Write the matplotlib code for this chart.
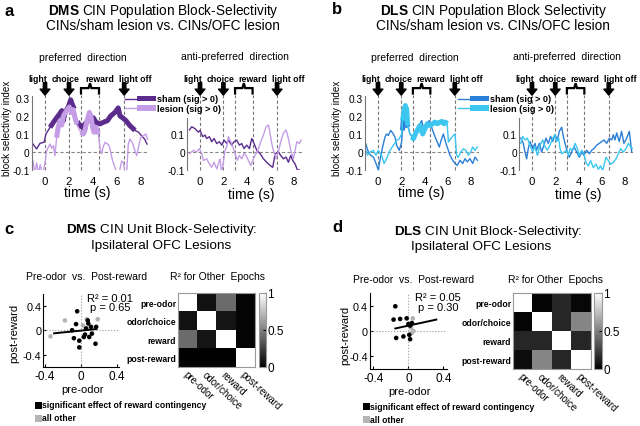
import numpy as np
import matplotlib.pyplot as plt
from matplotlib.patches import Rectangle
from matplotlib.lines import Line2D

plt.rcParams['font.family'] = ['Liberation Sans', 'DejaVu Sans']
plt.rcParams['mathtext.fontset'] = 'custom'
plt.rcParams['mathtext.rm'] = 'Liberation Sans'
plt.rcParams['mathtext.bf'] = 'Liberation Sans:bold'
plt.rcParams['axes.unicode_minus'] = False

##########
## DATA ##
##########

# population block selectivity, time (s) vs index; sig = windows where sig > 0
dms_pref_sham_t = [-1.0, -0.7, -0.42, -0.08, 0.08, 0.42, 0.7, 0.97, 1.2, 1.4, 1.53, 1.67, 1.94, 2.14, 2.3, 2.44,
                   2.7, 2.9, 3.14, 3.33, 3.6, 3.8, 4.03, 4.25, 4.58, 4.86, 5.2, 5.47, 5.83, 6.1, 6.25, 6.47,
                   6.75, 7.08, 7.5, 7.8, 8.05, 8.3, 8.5]
dms_pref_sham_v = [0.044, 0.017, 0.048, 0.054, 0.10, 0.137, 0.165, 0.19, 0.21, 0.23, 0.174, 0.22, 0.25, 0.29, 0.26, 0.24,
                   0.17, 0.146, 0.137, 0.156, 0.174, 0.196, 0.19, 0.165, 0.156, 0.165, 0.174, 0.20, 0.22, 0.245, 0.20, 0.19,
                   0.174, 0.146, 0.12, 0.11, 0.09, 0.072, 0.044]
dms_pref_sham_sig = [(0.4, 2.45), (2.7, 7.5)]

dms_pref_les_t = [-1.0, -0.85, -0.7, -0.55, -0.4, -0.2, 0.0, 0.14, 0.3, 0.42, 0.56, 0.7, 0.83, 0.97, 1.1, 1.25,
                  1.4, 1.53, 1.8, 2.03, 2.2, 2.35, 2.5, 2.65, 2.97, 3.2, 3.33, 3.47, 3.7, 3.83, 3.97, 4.08,
                  4.25, 4.44, 4.58, 4.72, 4.86, 5.0, 5.2, 5.35, 5.47, 5.64, 5.83, 5.97, 6.2, 6.39, 6.55, 6.68,
                  6.8, 6.94, 7.08, 7.3, 7.5, 7.64, 7.8, 7.97, 8.2, 8.4, 8.55]
dms_pref_les_v = [-0.05, -0.12, -0.06, -0.12, -0.07, -0.13, -0.06, 0.007, 0.03, 0.044, 0.02, 0.035, -0.02, 0.08, 0.137, 0.174,
                  0.15, 0.2, 0.23, 0.25, 0.22, 0.235, 0.19, 0.155, 0.11, 0.10, 0.12, 0.165, 0.22, 0.20, 0.137, 0.11,
                  0.137, 0.10, 0.026, -0.01, 0.03, 0.054, 0.045, 0.035, 0.0, -0.05, -0.085, -0.12, -0.11, -0.05, -0.06, -0.13,
                  -0.12, 0.044, 0.072, 0.05, 0.007, -0.02, 0.03, 0.08, 0.09, 0.1, 0.07]
dms_pref_les_sig = [(0.97, 2.65), (2.97, 4.44)]

dms_anti_sham_t = [-0.91, -0.71, -0.43, -0.14, 0.0, 0.23, 0.43, 0.57, 0.8, 1.0, 1.2, 1.43, 1.66, 1.86, 2.06,
                   2.29, 2.43, 2.71, 2.91, 3.14, 3.37, 3.57, 3.77, 4.0, 4.23, 4.43, 4.63, 4.86, 5.14, 5.43,
                   5.71, 6.0, 6.23, 6.43, 6.71, 6.91, 7.14, 7.37, 7.57, 7.77, 7.94, 8.14, 8.34, 8.5]
dms_anti_sham_v = [0.123, 0.14, 0.13, 0.11, 0.12, 0.085, 0.094, 0.075, 0.085, 0.057, 0.075, 0.047, 0.057, 0.038, 0.066,
                   0.047, 0.066, 0.038, 0.057, 0.066, 0.038, 0.047, 0.019, 0.038, 0.019, 0.075, 0.047, 0.009, -0.009, -0.038,
                   -0.057, -0.075, -0.085, -0.01, 0.0, -0.019, -0.038, -0.028, -0.057, -0.019, -0.047, -0.066, -0.1, -0.1]
dms_anti_sham_sig = []

dms_anti_les_t = [-0.91, -0.57, -0.29, -0.06, 0.14, 0.29, 0.57, 0.8, 1.0, 1.2, 1.43, 1.57, 1.71, 1.86, 2.14,
                  2.29, 2.43, 2.63, 2.8, 3.0, 3.2, 3.37, 3.57, 3.77, 3.95, 4.14, 4.34, 4.57, 4.8, 5.0,
                  5.2, 5.43, 5.66, 5.86, 6.0, 6.14, 6.29, 6.51, 6.71, 6.91, 7.14, 7.37, 7.57, 7.77, 8.0,
                  8.14, 8.29, 8.51, 8.66]
dms_anti_les_v = [-0.009, 0.009, 0.0, 0.019, -0.009, -0.047, -0.038, -0.066, -0.085, -0.057, -0.094, -0.066, -0.038, -0.12, 0.009,
                  0.028, 0.085, 0.057, 0.03, -0.009, -0.047, -0.019, -0.038, -0.009, -0.02, -0.047, -0.075, -0.038, -0.009, 0.019,
                  0.057, 0.094, 0.14, 0.15, 0.104, 0.047, 0.009, -0.038, 0.0, 0.057, 0.104, 0.123, 0.075, 0.009, -0.038,
                  0.009, 0.057, 0.047, 0.066]
dms_anti_les_sig = []

dls_pref_sham_t = [-1.1, -0.83, -0.63, -0.4, -0.17, 0.03, 0.17, 0.4, 0.6, 0.74, 0.89, 1.09, 1.32, 1.46, 1.6,
                   1.83, 2.03, 2.1, 2.23, 2.35, 2.46, 2.6, 2.75, 2.98, 3.18, 3.38, 3.55, 3.75, 3.9, 4.04,
                   4.24, 4.41, 4.61, 4.81, 5.04, 5.27, 5.47, 5.62, 5.85, 6.05, 6.19, 6.42, 6.62, 6.82, 7.05,
                   7.28, 7.48, 7.68, 7.9, 8.14, 8.34, 8.54]
dls_pref_sham_v = [0.055, 0.0, -0.018, -0.028, -0.064, -0.1, -0.046, 0.028, 0.083, 0.1, 0.092, 0.12, 0.1, 0.083, 0.037,
                   0.009, 0.055, 0.12, 0.21, 0.25, 0.157, 0.138, 0.1, 0.083, 0.092, 0.12, 0.147, 0.175, 0.138, 0.11,
                   0.157, 0.175, 0.138, 0.1, 0.064, 0.028, 0.074, 0.1, 0.046, 0.009, -0.018, -0.046, -0.064, -0.074, -0.046,
                   -0.064, -0.037, -0.055, -0.037, -0.064, -0.028, -0.046]
dls_pref_sham_sig = [(2.1, 2.6)]

dls_pref_les_t = [-1.1, -0.9, -0.69, -0.4, -0.17, 0.03, 0.31, 0.52, 0.74, 1.03, 1.32, 1.6, 1.83, 2.03, 2.12,
                  2.23, 2.35, 2.46, 2.55, 2.75, 2.9, 3.04, 3.21, 3.38, 3.6, 3.84, 4.04, 4.24, 4.47, 4.7,
                  4.9, 5.1, 5.33, 5.5, 5.67, 5.8, 5.95, 6.05, 6.25, 6.48, 6.62, 6.76, 6.9, 7.11, 7.34,
                  7.56, 7.77, 7.97, 8.14, 8.34, 8.54]
dls_pref_les_v = [0.018, -0.018, 0.0, 0.009, -0.018, 0.009, -0.018, -0.064, -0.037, 0.009, 0.037, 0.064, 0.074, 0.1, 0.175,
                  0.23, 0.258, 0.24, 0.147, 0.1, 0.083, 0.074, 0.1, 0.12, 0.147, 0.1, 0.13, 0.157, 0.147, 0.157,
                  0.166, 0.157, 0.166, 0.17, 0.157, 0.166, 0.157, 0.055, 0.074, 0.092, 0.1, -0.018, -0.03, 0.0, 0.018,
                  0.009, -0.018, 0.0, 0.028, 0.009, 0.028]
dls_pref_les_sig = [(2.1, 2.55), (2.9, 5.95)]

dls_anti_sham_t = [-0.97, -0.75, -0.6, -0.46, -0.32, -0.17, 0.06, 0.26, 0.4, 0.63, 0.83, 1.03, 1.2, 1.4, 1.6,
                   1.78, 1.98, 2.18, 2.35, 2.55, 2.69, 2.84, 3.04, 3.2, 3.41, 3.61, 3.84, 4.07, 4.27, 4.47,
                   4.7, 4.93, 5.13, 5.33, 5.56, 5.79, 5.99, 6.19, 6.42, 6.65, 6.85, 6.99, 7.13, 7.28, 7.5,
                   7.7, 7.9, 8.14, 8.37, 8.57]
dls_anti_sham_v = [0.077, 0.048, 0.0, -0.038, 0.019, 0.058, 0.019, 0.048, 0.01, 0.048, 0.0, 0.038, 0.077, 0.048, 0.087,
                   0.058, 0.096, 0.067, 0.115, 0.138, 0.087, 0.048, 0.0, -0.029, 0.0, 0.029, 0.0, -0.029, 0.0, -0.019,
                   0.01, -0.01, 0.01, 0.019, 0.038, 0.048, 0.058, 0.067, 0.048, 0.077, 0.067, 0.096, 0.067, 0.106, 0.058,
                   0.115, 0.048, 0.077, 0.115, 0.0]
dls_anti_sham_sig = []

dls_anti_les_t = [-0.97, -0.8, -0.6, -0.4, -0.17, 0.06, 0.26, 0.46, 0.69, 0.92, 1.12, 1.32, 1.55, 1.78, 1.98,
                  2.12, 2.29, 2.41, 2.55, 2.98, 3.12, 3.27, 3.5, 3.7, 3.9, 4.07, 4.27, 4.47, 4.64, 4.84,
                  5.04, 5.27, 5.5, 5.7, 5.9, 6.07, 6.36, 6.56, 6.76, 6.99, 7.22, 7.42, 7.62, 7.85, 8.08,
                  8.28, 8.48, 8.65]
dls_anti_les_v = [0.048, 0.087, 0.067, 0.077, 0.038, 0.0, 0.029, -0.019, 0.038, 0.067, 0.029, 0.01, 0.038, 0.077, 0.096,
                  0.058, 0.077, 0.019, -0.01, 0.01, -0.019, 0.019, 0.01, 0.048, 0.019, -0.019, 0.01, -0.01, -0.058, -0.077,
                  -0.048, -0.087, -0.067, -0.096, -0.077, -0.106, -0.029, -0.048, -0.067, -0.058, -0.038, -0.01, 0.019, 0.0, 0.019,
                  0.048, 0.029, 0.019]
dls_anti_les_sig = []

# task events (s)
event_lines = [0, 2, 3, 4.5, 6.6]
arrow_events = [0, 2, 6.6]
reward_window = (3, 4.5)
event_labels = ['light', 'choice', 'reward', 'light off']
event_label_t = [-0.6, 1.75, 4.55, 7.55]

# unit scatter: pre-odor vs post-reward selectivity
dms_sig_x = [-0.044, -0.056, -0.10, -0.08, -0.02, 0.03, 0.044, -0.02, 0.074, 0.08, 0.055, 0.11, 0.12, 0.09, 0.16, 0.167]
dms_sig_y = [0.31, 0.10, 0.0, -0.13, -0.17, -0.11, -0.07, -0.28, 0.16, 0.11, 0.03, 0.055, -0.055, -0.11, -0.22, 0.055]
dms_oth_x = [-0.34, -0.18, 0.02, 0.063, 0.185]
dms_oth_y = [-0.10, 0.16, 0.08, 0.18, 0.18]
dms_fit_x = [-0.3, 0.17]
dms_fit_y = [-0.05, 0.02]
dms_stats = ['R² = 0.01', 'p = 0.65']

dls_sig_x = [-0.15, -0.17, -0.095, -0.14, -0.057, -0.02, 0.0, 0.02, 0.04, 0.01, 0.02]
dls_sig_y = [0.39, 0.18, 0.19, -0.11, -0.086, 0.2, 0.11, 0.086, 0.126, -0.06, -0.13]
dls_oth_x = [0.05, 0.04, 0.057, 0.03]
dls_oth_y = [0.2, -0.03, 0.0, 0.05]
dls_fit_x = [-0.15, 0.32]
dls_fit_y = [0.04, 0.18]
dls_stats = ['R² = 0.05', 'p = 0.30']

# R^2 between epochs
epochs = ['pre-odor', 'odor/choice', 'reward', 'post-reward']
dms_r2 = [[1.00, 0.07, 0.42, 0.02],
          [0.07, 1.00, 0.08, 0.02],
          [0.42, 0.08, 1.00, 0.02],
          [0.01, 0.01, 0.01, 1.00]]
dls_r2 = [[1.00, 0.02, 0.15, 0.03],
          [0.02, 1.00, 0.15, 0.52],
          [0.15, 0.15, 1.00, 0.15],
          [0.05, 0.52, 0.15, 1.00]]

#############
## HELPERS ##
#############

W, H = 640, 427
fig = plt.figure(figsize=(6.4, 4.27), dpi=100)


def box(x0, y0, x1, y1):
    return [x0 / W, 1 - y1 / H, (x1 - x0) / W, (y1 - y0) / H]


def ftext(x, y, s, **kw):
    kw.setdefault('ha', 'center')
    kw.setdefault('va', 'center')
    fig.text(x / W, 1 - y / H, s, **kw)


def trace(ax, t, v, sig, color):
    t = np.asarray(t)
    v = np.asarray(v)
    ax.plot(t, v, color=color, lw=1.0)
    for a, b in sig:
        m = (t >= a) & (t <= b)
        ax.plot(t[m], v[m], color=color, lw=3.6, solid_capstyle='butt')


def pop_axes(rect, ytop, yticks):
    ax = fig.add_axes(rect)
    ax.set_xlim(-1.1, 8.7)
    ax.set_ylim(-0.1, ytop)
    for s in ['top', 'right', 'bottom']:
        ax.spines[s].set_visible(False)
    ax.spines['left'].set_color('#777777')
    ax.spines['left'].set_linewidth(0.8)
    ax.set_xticks([0, 2, 4, 6, 8])
    ax.set_yticks(yticks)
    ax.set_yticklabels(['%g' % y for y in yticks])
    ax.tick_params(axis='x', length=0, labelsize=8.2, pad=4)
    ax.tick_params(axis='y', length=0, labelsize=7.3, pad=1.5)
    ax.axhline(0, color='#888888', lw=0.8, ls=(0, (3, 2)))
    for x in event_lines:
        ax.plot([x, x], [-0.1, 0.318], color='#777777', lw=0.8, ls=(0, (3, 2)), clip_on=False)
    for x in arrow_events:
        ax.annotate('', xy=(x, 0.316), xytext=(x, 0.385), annotation_clip=False,
                    arrowprops=dict(facecolor='black', edgecolor='black', width=2.4,
                                    headwidth=7, headlength=4.3, shrink=0))
    a, b = reward_window
    m = (a + b) / 2
    ax.plot([a, a, m - 0.12, m, m + 0.12, b, b], [0.325, 0.355, 0.355, 0.382, 0.355, 0.355, 0.325],
            color='black', lw=1.6, clip_on=False, solid_joinstyle='miter')
    for lab, x in zip(event_labels, event_label_t):
        ax.text(x, 0.41, lab, ha='center', va='center', fontsize=6.3, fontweight='bold')
    return ax


def legend_top(x0, c_sham, c_les):
    for y, c, lab in [(99.5, c_sham, 'sham (sig > 0)'), (109, c_les, 'lesion (sig > 0)')]:
        fig.add_artist(Line2D([x0 / W, (x0 + 12) / W], [1 - y / H, 1 - y / H], color=c, lw=1.0))
        fig.add_artist(Rectangle(((x0 + 12) / W, 1 - (y + 2.8) / H), 18.5 / W, 5.6 / H,
                                 facecolor=c, edgecolor='none'))
        ftext(x0 + 32, y, lab, ha='left', fontsize=6.6, fontweight='bold')


def scatter_axes(rect, xl, sx, sy, ox, oy, fx, fy, stats, tx):
    ax = fig.add_axes(rect)
    ax.set_xlim(-xl, xl)
    ax.set_ylim(-0.6, 0.6)
    ax.spines['top'].set_visible(False)
    ax.spines['right'].set_visible(False)
    ax.set_xticks([-0.4, 0, 0.4])
    ax.set_xticklabels(['-0.4', '0', '0.4'])
    ax.set_yticks([-0.4, 0, 0.4])
    ax.set_yticklabels(['-0.4', '0', '0.4'])
    ax.tick_params(axis='x', labelsize=8.5, length=2, direction='in', pad=2)
    ax.tick_params(axis='y', labelsize=7.8, length=2, direction='in', pad=1.5)
    ax.axhline(0, color='#999999', lw=0.8, ls=':')
    ax.axvline(0, color='#999999', lw=0.8, ls=':')
    ax.scatter(ox, oy, s=11, color='#b4b4b4', edgecolors='none', zorder=3)
    ax.scatter(sx, sy, s=11, color='black', edgecolors='none', zorder=3)
    ax.plot(fx, fy, color='black', lw=1.4, zorder=4)
    ax.text(tx, 0.53, stats[0], ha='center', va='center', fontsize=8, clip_on=False)
    ax.text(tx, 0.38, stats[1], ha='center', va='center', fontsize=8, clip_on=False)
    return ax


def r2_axes(rect, crect, vals):
    ax = fig.add_axes(rect)
    im = ax.imshow(np.array(vals), cmap='gray', vmin=0, vmax=1, aspect='auto', interpolation='nearest')
    ax.set_yticks(range(4))
    ax.set_yticklabels(epochs, fontsize=6.2, fontweight='bold')
    ax.set_xticks(range(4))
    ax.set_xticklabels(epochs, fontsize=7, rotation=-43, ha='left', va='top', rotation_mode='anchor')
    ax.tick_params(length=0, pad=1.5)
    for s in ax.spines.values():
        s.set_color('#999999')
        s.set_linewidth(0.8)
    cax = fig.add_axes(crect)
    cb = fig.colorbar(im, cax=cax, ticks=[0, 0.5, 1])
    cb.ax.set_yticklabels(['0', '0.5', '1'])
    cb.ax.tick_params(labelsize=8.5, length=2, direction='in', pad=1)
    cb.outline.set_edgecolor('#999999')
    cb.outline.set_linewidth(0.8)
    return ax


#############
## FIGURA  ##
#############

purple_dark, purple_light = '#5b2c8c', '#c49de6'
blue_sham, blue_les = '#2a7fd6', '#3cc6f0'

# a: DMS population
ax = pop_axes(box(31.8, 97.2, 149.4, 171), 0.31, [-0.1, 0, 0.1, 0.2, 0.3])
trace(ax, dms_pref_sham_t, dms_pref_sham_v, dms_pref_sham_sig, purple_dark)
trace(ax, dms_pref_les_t, dms_pref_les_v, dms_pref_les_sig, purple_light)
ax = pop_axes(box(187.2, 118.8, 301.6, 171), 0.19, [-0.1, 0, 0.1])
trace(ax, dms_anti_sham_t, dms_anti_sham_v, dms_anti_sham_sig, purple_dark)
trace(ax, dms_anti_les_t, dms_anti_les_v, dms_anti_les_sig, purple_light)
legend_top(125, purple_dark, purple_light)

# b: DLS population
ax = pop_axes(box(365.2, 97.2, 479.2, 171), 0.31, [-0.1, 0, 0.1, 0.2, 0.3])
trace(ax, dls_pref_sham_t, dls_pref_sham_v, dls_pref_sham_sig, blue_sham)
trace(ax, dls_pref_les_t, dls_pref_les_v, dls_pref_les_sig, blue_les)
ax = pop_axes(box(519.2, 118.8, 633.2, 171), 0.19, [-0.1, 0, 0.1])
trace(ax, dls_anti_sham_t, dls_anti_sham_v, dls_anti_sham_sig, blue_sham)
trace(ax, dls_anti_les_t, dls_anti_les_v, dls_anti_les_sig, blue_les)
legend_top(458, blue_sham, blue_les)

# c / d: unit scatter + R2 matrices
scatter_axes(box(43.3, 294.5, 118.9, 368), 0.42, dms_sig_x, dms_sig_y, dms_oth_x, dms_oth_y,
             dms_fit_x, dms_fit_y, dms_stats, 0.32)
r2_axes(box(178.3, 294, 255, 368), box(259, 294, 266, 368), dms_r2)
scatter_axes(box(370, 294, 446.8, 370), 0.44, dls_sig_x, dls_sig_y, dls_oth_x, dls_oth_y,
             dls_fit_x, dls_fit_y, dls_stats, 0.34)
r2_axes(box(513.3, 294, 590.7, 370), box(594, 294, 602, 370), dls_r2)

# texts
ftext(9, 11, 'a', fontsize=12, fontweight='bold')
ftext(337, 10, 'b', fontsize=12, fontweight='bold')
ftext(9, 229, 'c', fontsize=12, fontweight='bold')
ftext(337, 228, 'd', fontsize=12, fontweight='bold')

ftext(163, 10.5, r'$\mathbf{DMS}$ CIN Population Block-Selectivity', fontsize=9.8)
ftext(163, 26.5, 'CINs/sham lesion vs. CINs/OFC lesion', fontsize=9.8)
ftext(493, 10.5, r'$\mathbf{DLS}$ CIN Population Block Selectivity', fontsize=9.8)
ftext(493, 26.5, 'CINs/sham lesion vs. CINs/OFC lesion', fontsize=9.8)
ftext(162, 230.5, r'$\mathbf{DMS}$ CIN Unit Block-Selectivity:', fontsize=9.7)
ftext(161, 246.5, 'Ipsilateral OFC Lesions', fontsize=9.7)
ftext(488, 231.5, r'$\mathbf{DLS}$ CIN Unit Block-Selectivity:', fontsize=9.7)
ftext(481, 247.5, 'Ipsilateral OFC Lesions', fontsize=9.7)

for x in (83, 415):
    ftext(x, 58, 'preferred  direction', fontsize=7.5)
for x in (235, 567):
    ftext(x, 57, 'anti-preferred  direction', fontsize=7.5)
for x, y in ((87, 193), (251, 195), (421, 193), (578, 195)):
    ftext(x, y, 'time (s)', fontsize=10)
ftext(7, 128, 'block selectivity index', fontsize=7.1, rotation=90)
ftext(337, 128, 'block selectivity index', fontsize=7.1, rotation=90)

ftext(87, 277, 'Pre-odor  vs.  Post-reward', fontsize=7.5)
ftext(218, 277, 'R² for Other  Epochs', fontsize=7.5)
ftext(414, 280, 'Pre-odor  vs.  Post-reward', fontsize=7.5)
ftext(556, 280, 'R² for Other  Epochs', fontsize=7.5)
ftext(83, 390, 'pre-odor', fontsize=8)
ftext(410, 392, 'pre-odor', fontsize=8)
ftext(14, 333, 'post-reward', fontsize=8, rotation=90)
ftext(345, 335, 'post-reward', fontsize=8, rotation=90)

for x0, y0 in ((35, 406), (363, 407.5)):
    fig.add_artist(Rectangle((x0 / W, 1 - (y0 + 3.5) / H), 6.5 / W, 7 / H, facecolor='black', edgecolor='none'))
    ftext(x0 + 7, y0, 'significant effect of reward contingency', ha='left', fontsize=6.2, fontweight='bold')
    fig.add_artist(Rectangle((x0 / W, 1 - (y0 + 16.5) / H), 6.5 / W, 7 / H, facecolor='#b4b4b4', edgecolor='none'))
    ftext(x0 + 7, y0 + 13, 'all other', ha='left', fontsize=6.2, fontweight='bold')

fig.savefig('out.png', dpi=100)
